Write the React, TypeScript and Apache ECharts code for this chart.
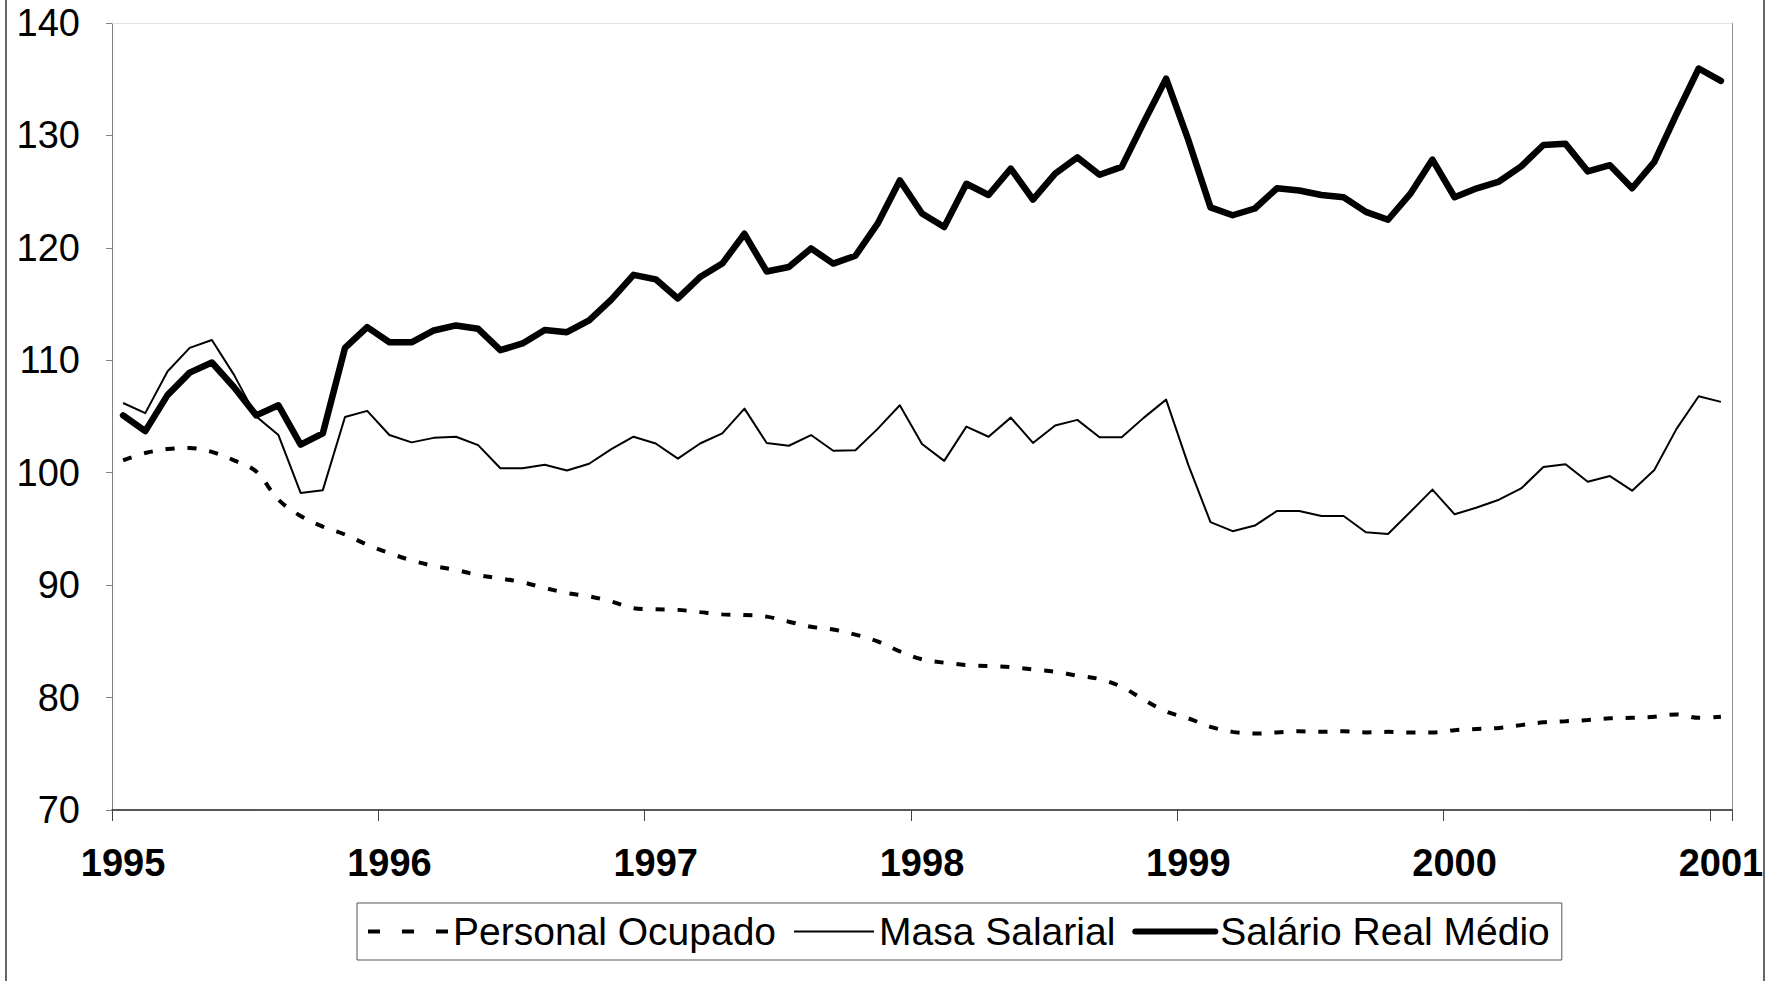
import React, { useEffect, useRef } from 'react';
import * as echarts from 'echarts';

const years = ['1995', '1996', '1997', '1998', '1999', '2000', '2001'];
const monthCodes = ['01', '02', '03', '04', '05', '06', '07', '08', '09', '10', '11', '12'];

const seriesNames = ['Personal Ocupado', 'Masa Salarial', 'Salário Real Médio'];

const personalOcupado = [
  101.1, 101.75, 102.1, 102.2, 101.85, 101.1, 100.1, 97.6, 96.15, 95.2, 94.5, 93.6,
  92.85, 92.2, 91.7, 91.35, 90.9, 90.6, 90.25, 89.75, 89.3, 89.0, 88.55, 87.95,
  87.85, 87.8, 87.6, 87.4, 87.35, 87.2, 86.75, 86.3, 86.05, 85.6, 85.0, 84.1,
  83.4, 83.1, 82.9, 82.8, 82.7, 82.5, 82.3, 81.95, 81.65, 80.95, 79.8, 78.75,
  78.15, 77.4, 76.95, 76.8, 76.9, 77.0, 76.95, 77.0, 76.9, 76.95, 76.9, 76.9,
  77.1, 77.2, 77.3, 77.55, 77.8, 77.9, 78.0, 78.15, 78.2, 78.3, 78.5, 78.2,
  78.3,
];

const masaSalarial = [
  106.2, 105.3, 109.0, 111.1, 111.8, 108.7, 105.0, 103.35, 98.2, 98.45, 104.95, 105.5,
  103.35, 102.7, 103.1, 103.2, 102.45, 100.4, 100.4, 100.7, 100.2, 100.8, 102.1, 103.2,
  102.6, 101.25, 102.6, 103.5, 105.7, 102.65, 102.4, 103.35, 101.95, 102.0, 103.9, 106.0,
  102.55, 101.05, 104.1, 103.2, 104.9, 102.65, 104.2, 104.7, 103.15, 103.15, 104.9, 106.5,
  100.7, 95.6, 94.8, 95.3, 96.6, 96.6, 96.15, 96.15, 94.7, 94.55, 96.5, 98.5,
  96.3, 96.9, 97.6, 98.6, 100.5, 100.75, 99.2, 99.7, 98.4, 100.25, 103.9, 106.8,
  106.3,
];

const salarioReal = [
  105.1, 103.7, 106.9, 108.9, 109.8, 107.6, 105.1, 106.0, 102.5, 103.5, 111.1, 112.95,
  111.6, 111.6, 112.65, 113.1, 112.8, 110.9, 111.5, 112.7, 112.5, 113.55, 115.4, 117.6,
  117.2, 115.5, 117.4, 118.6, 121.25, 117.9, 118.3, 119.95, 118.6, 119.3, 122.15, 126.0,
  123.05, 121.85, 125.7, 124.7, 127.05, 124.3, 126.6, 128.05, 126.5, 127.2, 131.2, 135.05,
  129.6, 123.6, 122.9, 123.5, 125.3, 125.1, 124.7, 124.5, 123.2, 122.5, 124.8, 127.85,
  124.5, 125.3, 125.9, 127.25, 129.15, 129.25, 126.8, 127.35, 125.3, 127.65, 131.9, 135.95,
  134.85,
];

const yMin = 70;
const yMax = 140;
const yStep = 10;

// monthly categories: Jan 1995 ... Jan 2001
const categories: string[] = years
  .slice(0, years.length - 1)
  .flatMap((y) => monthCodes.map((m) => `${y}-${m}`))
  .concat([`${years[years.length - 1]}-01`]);

const FONT = "'Liberation Sans', Arial, Helvetica, sans-serif";

export default function App() {
  const ref = useRef<HTMLDivElement>(null);

  useEffect(() => {
    if (!ref.current) return;
    const chart = echarts.init(ref.current, undefined, { renderer: 'svg' });
    const option: any = {
      animation: false,
      backgroundColor: '#ffffff',
      textStyle: { fontFamily: FONT },
      grid: { left: 112, right: 45, top: 23, bottom: 171, show: false },
      legend: {
        show: true,
        left: 357,
        top: 903,
        orient: 'horizontal',
        itemWidth: 80,
        itemHeight: 14,
        itemGap: 17,
        padding: [8, 12, 8, 9],
        borderColor: '#555',
        borderWidth: 1,
        itemStyle: { opacity: 0, borderWidth: 0 },
        textStyle: { fontFamily: FONT, fontSize: 39, color: '#000', lineHeight: 41 },
        data: [
          { name: seriesNames[0], lineStyle: { width: 4, type: [12, 22], opacity: 1 } },
          { name: seriesNames[1], lineStyle: { width: 2, opacity: 1 } },
          { name: seriesNames[2], lineStyle: { width: 6, opacity: 1 } },
        ],
      },
      xAxis: [
        {
          type: 'category',
          data: categories,
          boundaryGap: true,
          axisLine: { show: true, lineStyle: { color: '#222', width: 1.5 } },
          axisTick: { show: true, interval: 11, length: 11, lineStyle: { color: '#444', width: 1 } },
          axisLabel: {
            interval: 11,
            formatter: (v: string) => v.slice(0, 4),
            fontFamily: FONT,
            fontSize: 38,
            fontWeight: 'bold',
            color: '#000',
            margin: 34,
          },
          splitLine: { show: false },
        },
        {
          type: 'category',
          data: categories,
          position: 'top',
          boundaryGap: true,
          axisLine: { show: true, lineStyle: { color: '#e2e2e2', width: 1 } },
          axisTick: { show: false },
          axisLabel: { show: false },
          splitLine: { show: false },
        },
      ],
      yAxis: [
        {
          type: 'value',
          min: yMin,
          max: yMax,
          interval: yStep,
          axisLine: { show: true, lineStyle: { color: '#808080', width: 1 } },
          axisTick: { show: true, length: 6, lineStyle: { color: '#808080' } },
          axisLabel: { fontFamily: FONT, fontSize: 38, color: '#000', margin: 32 },
          splitLine: { show: false },
        },
        {
          type: 'value',
          min: yMin,
          max: yMax,
          interval: yStep,
          position: 'right',
          axisLine: { show: true, lineStyle: { color: '#909090', width: 1 } },
          axisTick: { show: false },
          axisLabel: { show: false },
          splitLine: { show: false },
        },
      ],
      series: [
        {
          name: seriesNames[0],
          type: 'line',
          data: personalOcupado,
          symbol: 'none',
          smooth: 0.35,
          lineStyle: { color: '#000', width: 4, type: [9, 13] },
          itemStyle: { color: '#000' },
          z: 2,
        },
        {
          name: seriesNames[1],
          type: 'line',
          data: masaSalarial,
          symbol: 'none',
          lineStyle: { color: '#000', width: 2, join: 'round' },
          itemStyle: { color: '#000' },
          z: 3,
        },
        {
          name: seriesNames[2],
          type: 'line',
          data: salarioReal,
          symbol: 'none',
          lineStyle: { color: '#000', width: 6.5, join: 'round', cap: 'round' },
          itemStyle: { color: '#000' },
          z: 4,
        },
      ],
      graphic: [
        { type: 'line', shape: { x1: 6, y1: 0, x2: 6, y2: 981 }, style: { stroke: '#333', lineWidth: 1.5 } },
        { type: 'line', shape: { x1: 1764, y1: 0, x2: 1764, y2: 981 }, style: { stroke: '#333', lineWidth: 1.5 } },
      ],
    };
    chart.setOption(option);
    return () => chart.dispose();
  }, []);

  return (
    <div
      ref={ref}
      style={{ position: 'fixed', left: 0, top: 0, width: 1777, height: 981, background: '#fff' }}
    />
  );
}
